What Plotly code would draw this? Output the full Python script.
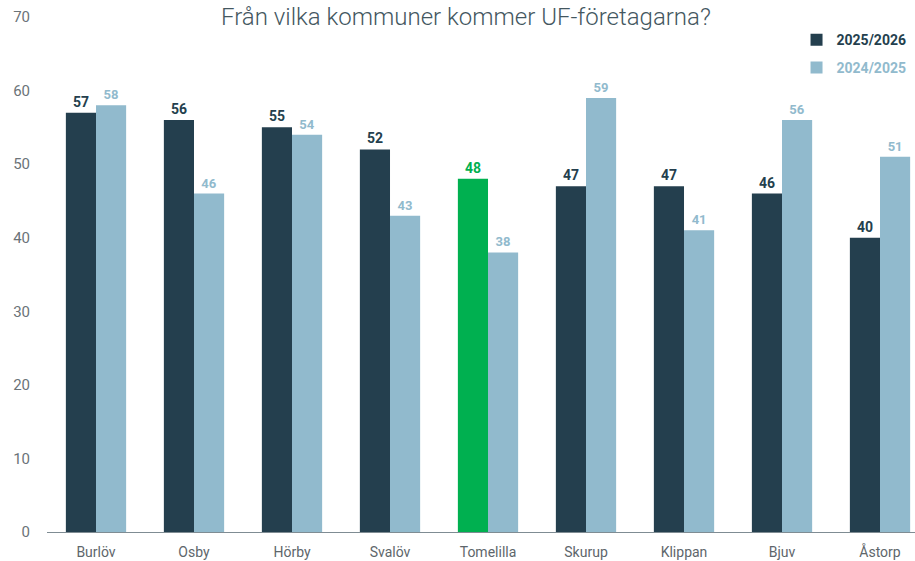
import plotly.graph_objects as go

categories = ["Burlöv", "Osby", "Hörby", "Svalöv", "Tomelilla", "Skurup", "Klippan", "Bjuv", "Åstorp"]
values_2025 = [57, 56, 55, 52, 48, 47, 47, 46, 40]
values_2024 = [58, 46, 54, 43, 38, 59, 41, 56, 51]
highlight = "Tomelilla"
y_ticks = [0, 10, 20, 30, 40, 50, 60, 70]

DARK = "#243F4E"
LIGHT = "#91BACD"
GREEN = "#00B050"

dark_colors = [GREEN if c == highlight else DARK for c in categories]

fig = go.Figure()
fig.add_trace(go.Bar(
    x=categories, y=values_2025,
    name="<b><span style='color:%s'>2025/2026</span></b>" % DARK,
    legend="legend",
    marker=dict(color=dark_colors, line=dict(width=0)),
    text=["<b>%d</b>" % v for v in values_2025],
    textposition="outside",
    textfont=dict(family="Roboto", size=14, color=dark_colors),
    cliponaxis=False,
))
fig.add_trace(go.Bar(
    x=categories, y=values_2024,
    name="<b><span style='color:%s'>2024/2025</span></b>" % LIGHT,
    legend="legend2",
    marker=dict(color=LIGHT, line=dict(width=0)),
    text=["<b>%d</b>" % v for v in values_2024],
    textposition="outside",
    textfont=dict(family="Roboto", size=13, color=LIGHT),
    cliponaxis=False,
))

legend_common = dict(
    x=0.996, xanchor="right", yanchor="top",
    font=dict(family="Roboto", size=14),
    itemsizing="constant", itemwidth=30,
    bgcolor="rgba(0,0,0,0)",
)

fig.update_layout(
    width=915, height=561,
    margin=dict(l=47, r=0, t=17, b=29),
    paper_bgcolor="white", plot_bgcolor="white",
    font=dict(family="Roboto", color="#595959"),
    barmode="group",
    bargap=0.385, bargroupgap=0,
    showlegend=True,
    legend=dict(y=0.986, **legend_common),
    legend2=dict(y=0.932, **legend_common),
    annotations=[dict(
        text="Från vilka kommuner kommer UF-företagarna?",
        xref="paper", yref="paper", x=0.483, y=1.0,
        xanchor="center", yanchor="middle", showarrow=False,
        font=dict(family="Roboto", size=24, color="#44575F", weight=300),
    )],
    xaxis=dict(
        type="category", range=[-0.5, 8.357],
        showline=True, linecolor="#7F8C93", linewidth=1,
        ticks="", showgrid=False,
        tickfont=dict(family="Roboto", size=14, color="#5E666B"),
        ticklabelstandoff=7,
    ),
    yaxis=dict(
        range=[0, 70], tickvals=y_ticks,
        showgrid=False, zeroline=False, showline=False,
        tickfont=dict(family="Roboto", size=15, color="#6B7378"),
        ticklabelstandoff=16,
    ),
)

fig.write_html("out.html", config={"displayModeBar": False},
               post_script="document.body.style.margin='0';")
